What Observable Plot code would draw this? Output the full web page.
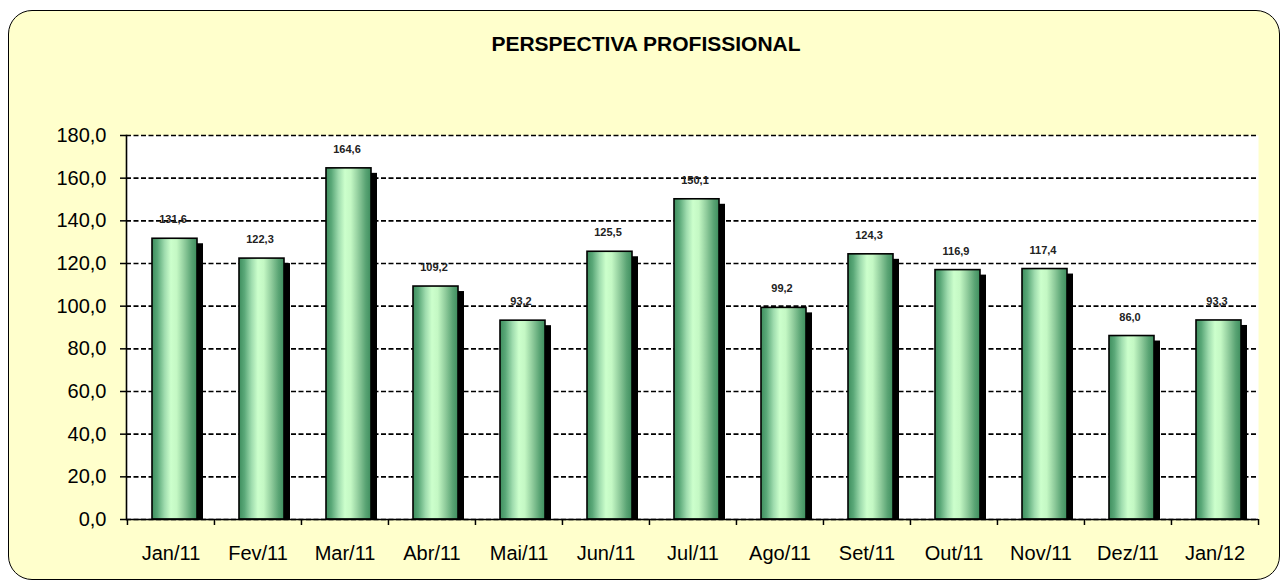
<!DOCTYPE html>
<html><head><meta charset="utf-8">
<script src="https://cdn.jsdelivr.net/npm/d3@7"></script>
<script src="https://cdn.jsdelivr.net/npm/@observablehq/plot@0.6"></script>
<style>
body{margin:0;background:#fff;font-family:"Liberation Sans",Arial,sans-serif;}
#wrap{position:relative;width:1283px;height:584px;overflow:hidden;}
#box{position:absolute;left:8px;top:10px;width:1272px;height:570px;border:1.5px solid #000;border-radius:24px;background:#FFFFCC;box-sizing:border-box;}
#title{position:absolute;left:0;width:1292px;top:32px;text-align:center;font-weight:bold;font-size:21px;line-height:24px;}
#chart{position:absolute;left:0;top:0;}
</style></head>
<body>
<div id="wrap"><div id="box"></div><div id="title">PERSPECTIVA PROFISSIONAL</div><div id="chart"></div></div>
<script>
const months = ["Jan/11","Fev/11","Mar/11","Abr/11","Mai/11","Jun/11","Jul/11","Ago/11","Set/11","Out/11","Nov/11","Dez/11","Jan/12"];
const values = [131.6,122.3,164.6,109.2,93.2,125.5,150.1,99.2,124.3,116.9,117.4,86.0,93.3];
const yTicks = [0,20,40,60,80,100,120,140,160,180];

const data = months.map((m,i)=>({m, v: values[i]}));
const fmt = d => d.toFixed(1).replace(".", ",");

const W = 1283, H = 584, ML = 126, MR = 25, MT = 135, MB = 65;
const bw = (W - ML - MR) / months.length;

const plot = Plot.plot({
  width: W, height: H,
  marginLeft: ML, marginRight: MR, marginTop: MT, marginBottom: MB,
  style: {background: "transparent", fontFamily: "'Liberation Sans', Arial, sans-serif", color: "#000"},
  x: {type: "band", domain: months, padding: 0, axis: null},
  y: {domain: [0,180], axis: null},
  marks: [
    Plot.frame({fill: "white", stroke: "none"}),
    Plot.gridY(yTicks, {stroke: "#000", strokeOpacity: 1, strokeWidth: 1.7, strokeDasharray: "5,2.5"}),
    Plot.barY(data, {x: "m", y: "v", fill: "#000", insetLeft: 30, insetRight: 11, insetTop: 5}),
    Plot.barY(data, {x: "m", y: "v", fill: "url(#barGrad)", stroke: "#000", strokeWidth: 1.6, insetLeft: 25, insetRight: 17}),
    Plot.ruleY([0], {stroke: "#000", strokeWidth: 1.6}),
    Plot.frame({anchor: "left", stroke: "#000", strokeWidth: 1.6}),
    Plot.text(data, {x: "m", y: "v", text: d => fmt(d.v), dy: -19, dx: 2, fontWeight: "bold", fontSize: 11, fill: "#222"}),
    Plot.axisY(yTicks, {tickSize: 6, tickPadding: 14, fontSize: 20, label: null, tickFormat: fmt, strokeWidth: 1.5}),
    Plot.axisX(months, {tickSize: 0, tickPadding: 26, fontSize: 20, label: null}),
    Plot.axisX(months, {tickSize: 6, dx: -bw/2, tickFormat: () => "", label: null, strokeWidth: 1.5}),
    Plot.axisX([months[months.length-1]], {tickSize: 6, dx: bw/2, tickFormat: () => "", label: null, strokeWidth: 1.5})
  ]
});

const svgEl = d3.select(plot);
const defs = svgEl.insert("defs", ":first-child");
const g = defs.append("linearGradient").attr("id", "barGrad").attr("x1", "0").attr("x2", "1").attr("y1", "0").attr("y2", "0");
[[0,"#3e8e5e"],[0.12,"#5aa878"],[0.28,"#9fdcae"],[0.42,"#ccffcc"],[0.55,"#c4f8c4"],[0.72,"#90cc9c"],[0.88,"#5aa474"],[1,"#3e8e5e"]]
  .forEach(([o,c]) => g.append("stop").attr("offset", o).attr("stop-color", c));

document.getElementById("chart").appendChild(plot);
</script>
</body></html>
